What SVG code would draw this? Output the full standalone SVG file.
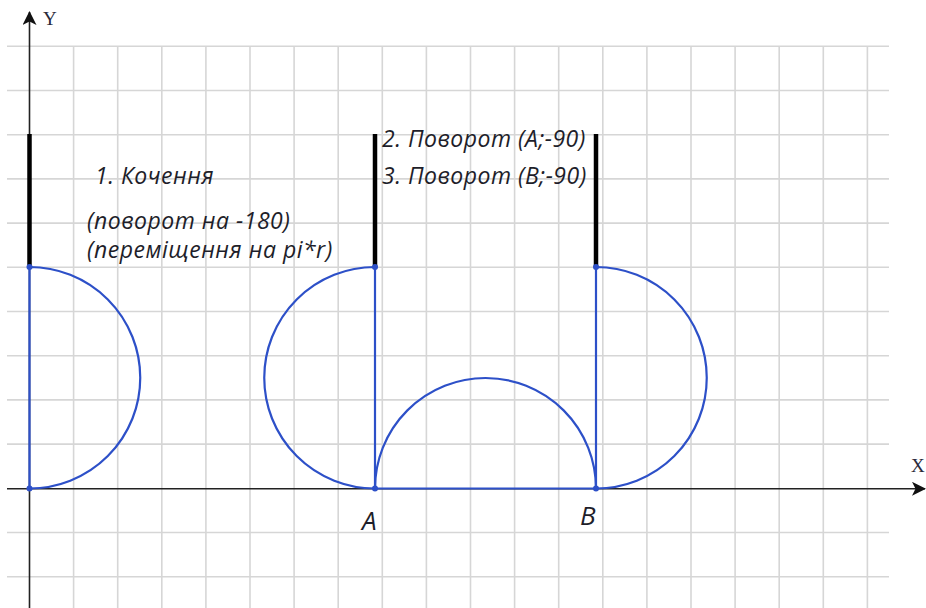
<svg xmlns="http://www.w3.org/2000/svg" width="926" height="608" viewBox="0 0 926 608">
<defs>
<style>
.grid line{stroke:#d6d6d6;stroke-width:1.6}
.axis{stroke:#222;stroke-width:1.6;fill:none}
.blue{stroke:#2d50c8;stroke-width:2.2;fill:none}
.bar{stroke:#000;stroke-width:4.5}
.dot{fill:#2d50c8}
.lbl{font-family:"Open Sans","Liberation Sans",sans-serif;font-style:italic;font-size:23px;letter-spacing:0.5px;fill:#1e1e2a}
.pt{font-family:"Open Sans","Liberation Sans",sans-serif;font-style:italic;font-size:26px;fill:#1e1e2a}
.ax{font-family:"Liberation Serif","DejaVu Serif",serif;font-size:19px;fill:#2a2a3a}
</style>
<marker id="arr" markerWidth="14" markerHeight="14" refX="13" refY="7" orient="auto" markerUnits="userSpaceOnUse" viewBox="0 0 14 14">
<path d="M0,0 L14,7 L0,14 L3.5,7 Z" fill="#111"/>
</marker>
</defs>
<rect width="926" height="608" fill="#fff"/>
<g class="grid" id="grid">
<line x1="7" y1="46.3" x2="889" y2="46.3"/>
<line x1="7" y1="90.5" x2="889" y2="90.5"/>
<line x1="7" y1="134.7" x2="889" y2="134.7"/>
<line x1="7" y1="178.9" x2="889" y2="178.9"/>
<line x1="7" y1="223.1" x2="889" y2="223.1"/>
<line x1="7" y1="267.3" x2="889" y2="267.3"/>
<line x1="7" y1="311.5" x2="889" y2="311.5"/>
<line x1="7" y1="355.7" x2="889" y2="355.7"/>
<line x1="7" y1="399.9" x2="889" y2="399.9"/>
<line x1="7" y1="444.1" x2="889" y2="444.1"/>
<line x1="7" y1="532.5" x2="889" y2="532.5"/>
<line x1="7" y1="576.7" x2="889" y2="576.7"/>
<line x1="73.6" y1="46.3" x2="73.6" y2="608"/>
<line x1="117.7" y1="46.3" x2="117.7" y2="608"/>
<line x1="161.8" y1="46.3" x2="161.8" y2="608"/>
<line x1="205.9" y1="46.3" x2="205.9" y2="608"/>
<line x1="250" y1="46.3" x2="250" y2="608"/>
<line x1="294.1" y1="46.3" x2="294.1" y2="608"/>
<line x1="338.2" y1="46.3" x2="338.2" y2="608"/>
<line x1="382.3" y1="46.3" x2="382.3" y2="608"/>
<line x1="426.4" y1="46.3" x2="426.4" y2="608"/>
<line x1="470.5" y1="46.3" x2="470.5" y2="608"/>
<line x1="514.6" y1="46.3" x2="514.6" y2="608"/>
<line x1="558.7" y1="46.3" x2="558.7" y2="608"/>
<line x1="602.8" y1="46.3" x2="602.8" y2="608"/>
<line x1="646.9" y1="46.3" x2="646.9" y2="608"/>
<line x1="691" y1="46.3" x2="691" y2="608"/>
<line x1="735.1" y1="46.3" x2="735.1" y2="608"/>
<line x1="779.2" y1="46.3" x2="779.2" y2="608"/>
<line x1="823.3" y1="46.3" x2="823.3" y2="608"/>
<line x1="867.4" y1="46.3" x2="867.4" y2="608"/>
</g>
<g id="axes">
<line class="axis" x1="7" y1="488.8" x2="925" y2="488.8" marker-end="url(#arr)"/>
<line class="axis" x1="29.5" y1="608" x2="29.5" y2="12" marker-end="url(#arr)"/>
<text class="ax" x="43" y="25">Y</text>
<text class="ax" x="911" y="472">X</text>
</g>
<g id="connectors">
<line class="bar" x1="29.5" y1="134" x2="29.5" y2="267"/>
<line class="bar" x1="375" y1="134" x2="375" y2="267"/>
<line class="bar" x1="596" y1="134" x2="596" y2="267"/>
<path class="blue" d="M29.5,267 L29.5,488.5 M29.5,267 A110.75,110.75 0 0 1 29.5,488.5"/>
<path class="blue" d="M375,267 L375,488.5 M375,267 A110.75,110.75 0 0 0 375,488.5"/>
<path class="blue" d="M375,488.5 A110.5,110.5 0 0 1 596,488.5 M375,488.5 L596,488.5"/>
<path class="blue" d="M596,267 L596,488.5 M596,267 A110.75,110.75 0 0 1 596,488.5"/>
</g>
<g id="points">
<circle class="dot" cx="29.5" cy="267" r="3"/>
<circle class="dot" cx="29.5" cy="488.5" r="3"/>
<circle class="dot" cx="375" cy="267" r="3"/>
<circle class="dot" cx="375" cy="488.5" r="3"/>
<circle class="dot" cx="596" cy="267" r="3"/>
<circle class="dot" cx="596" cy="488.5" r="3"/>
</g>
<g id="labels">
<text class="lbl" x="95" y="184">1. Кочення</text>
<text class="lbl" x="87" y="229">(поворот на -180)</text>
<text class="lbl" x="87" y="258">(переміщення на pi*r)</text>
<text class="lbl" x="382" y="147">2. Поворот (А;-90)</text>
<text class="lbl" x="382" y="184">3. Поворот (В;-90)</text>
<text class="pt" x="362" y="530">A</text>
<text class="pt" x="580" y="525">B</text>
</g>
</svg>
